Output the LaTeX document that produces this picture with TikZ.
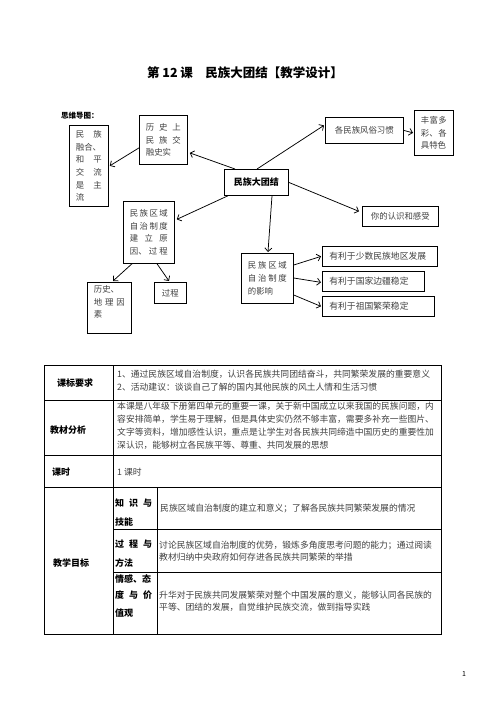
\documentclass[tikz,border=0pt]{standalone}
\usepackage{fontspec}
\setmainfont{Noto Sans CJK SC}
\usetikzlibrary{arrows.meta,calc}
\newcommand{\sprd}[2]{\makebox[#1pt][s]{#2}}
\definecolor{txt}{gray}{0.25}
\begin{document}
\begin{tikzpicture}[x=1pt,y=-1pt,
  box/.style={draw, line width=0.75pt, anchor=north west, inner sep=0pt, align=left,
    text=txt, font=\fontsize{8.4}{12.7}\selectfont},
  bbox/.style={box, inner xsep=7pt, align=left, font=\fontsize{8.8}{12}\selectfont},
  arr/.style={line width=0.75pt, -{Straight Barb[length=3.5pt,width=7pt]}},
  tl/.style={line width=0.8pt},
  tt/.style={anchor=west, inner sep=0pt, text=txt, font=\fontsize{8.8}{12}\selectfont},
  lb/.style={anchor=west, inner sep=0pt, font=\bfseries\fontsize{9}{12}\selectfont}]
\fill[white] (0,0) rectangle (496,702);
\path[use as bounding box] (0,0) rectangle (496,702);

% title
\node[font=\bfseries\fontsize{12.5}{14}\selectfont, inner sep=0pt] (title) at (245,73) {第 12 课\quad 民族大团结【教学设计】};
\node[anchor=west, inner sep=0pt, font=\bfseries\fontsize{7.5}{9}\selectfont] (mm) at (61,116) {思维导图：};

% mind map boxes
\node[box, minimum width=39pt, minimum height=81pt] (he) at (69,125)
  {\sprd{26}{民\hfill 族}\\ 融合、\\ \sprd{26}{和\hfill 平}\\ \sprd{26}{交\hfill 流}\\ \sprd{26}{是\hfill 主}\\ 流};
\node[box, minimum width=48pt, minimum height=49pt] (lishi) at (139,115)
  {\sprd{35}{历\hfill 史\hfill 上}\\ \sprd{35}{民\hfill 族\hfill 交}\\ 融史实};
\node[box, minimum width=64pt, minimum height=26pt, text=black, font=\bfseries\fontsize{9}{12}\selectfont] (tj) at (224,169) {民族大团结};
\node[box, minimum width=78pt, minimum height=26pt] (fs) at (325,117) {各民族风俗习惯};
\node[box, minimum width=39pt, minimum height=45pt] (ff) at (414,110)
  {\sprd{26}{丰\hfill 富\hfill 多}\\ \sprd{26}{彩、\hfill 各}\\ 具特色};
\node[box, minimum width=76pt, minimum height=20pt] (gs) at (362,206) {你的认识和感受};
\node[box, minimum width=51pt, minimum height=62pt] (zd) at (123,201)
  {\sprd{38}{民\hfill 族\hfill 区\hfill 域}\\ \sprd{38}{自\hfill 治\hfill 制\hfill 度}\\ \sprd{38}{建\hfill 立\hfill 原}\\ \sprd{38}{因、\hfill 过\hfill 程}};
\node[box, minimum width=44pt, minimum height=51pt] (dl) at (87,282)
  {历史、\\ \sprd{31}{地\hfill 理\hfill 因}\\ 素\\ \mbox{}};
\node[box, minimum width=32pt, minimum height=21pt] (gc) at (154,282) {过程};
\node[box, minimum width=52pt, minimum height=50pt] (yx) at (241,253)
  {\sprd{39}{民\hfill 族\hfill 区\hfill 域}\\ \sprd{39}{自\hfill 治\hfill 制\hfill 度}\\ 的影响};
\node[bbox, text width=101pt, minimum height=20pt] (b1) at (322,246) {有利于少数民族地区发展};
\node[bbox, text width=88pt, minimum height=20pt] (b2) at (322,271) {有利于国家边疆稳定};
\node[bbox, text width=98pt, minimum height=20pt] (b3) at (322,296) {有利于祖国繁荣稳定};

% connectors
\draw[arr] ($(tj.north west)+(11,0)$) -- ($(lishi.east)+(2,13)$);
\draw[arr] ($(lishi.west)+(0,8)$) -- ($(he.east)+(1,0)$);
\draw[arr] ($(tj.north west)+(33,0)$) -- ($(fs.west)+(-1,-5)$);
\draw[arr] (fs.east) -- ($(ff.west)+(-1,0)$);
\draw[arr] ($(tj.east)+(0,0)$) -- ($(gs.west)+(-3,-5)$);
\draw[arr] ($(tj.south west)+(4,0)$) -- ($(zd.east)+(2,-13)$);
\draw[arr] ($(tj.south west)+(48,0)$) -- ($(yx.north west)+(27,-1)$);
\draw[arr] ($(zd.south west)+(9,0)$) -- ($(dl.north west)+(26,-1)$);
\draw[arr] ($(zd.south west)+(34,0)$) -- ($(gc.north west)+(15,-1)$);
\draw[arr] ($(yx.north east)+(0,12)$) -- ($(b1.west)+(-1,0)$);
\draw[arr] ($(yx.north east)+(0,25)$) -- ($(b2.west)+(-1,1)$);
\draw[arr] ($(yx.north east)+(0,42)$) -- ($(b3.west)+(-1,0)$);

% table
\draw[tl] (44,365) rectangle (441,634);
\draw[tl] (44,400) -- (441,400);
\draw[tl] (44,455) -- (441,455);
\draw[tl] (44,487) -- (441,487);
\draw[tl] (113,529) -- (441,529);
\draw[tl] (113,572) -- (441,572);
\draw[tl] (113,365) -- (113,634);
\draw[tl] (157,487) -- (157,634);

\node[lb] (l1) at (57,383) {课标要求};
\node[lb] (l2) at (50,430) {教材分析};
\node[lb] (l3) at (52,472) {课时};
\node[lb] (l4) at (53,563) {教学目标};

\node[tt] (r1a) at (117,374) {1、通过民族区域自治制度，认识各民族共同团结奋斗，共同繁荣发展的重要意义};
\node[tt] (r1b) at (117,387) {2、活动建议：谈谈自己了解的国内其他民族的风土人情和生活习惯};
\node[tt] (r2a) at (117,406) {本课是八年级下册第四单元的重要一课，关于新中国成立以来我国的民族问题，内};
\node[tt] (r2b) at (117,419) {容安排简单，学生易于理解，但是具体史实仍然不够丰富，需要多补充一些图片、};
\node[tt] (r2c) at (117,432) {文字等资料，增加感性认识，重点是让学生对各民族共同缔造中国历史的重要性加};
\node[tt] (r2d) at (117,445) {深认识，能够树立各民族平等、尊重、共同发展的思想};
\node[tt] (r3) at (117,472) {1 课时};

\node[lb] (s1a) at (115,503) {\sprd{37}{知\hfill 识\hfill 与}};
\node[lb] (s1b) at (115,522) {技能};
\node[lb] (s2a) at (115,544) {\sprd{37}{过\hfill 程\hfill 与}};
\node[lb] (s2b) at (115,563) {方法};
\node[lb] (s3a) at (115,579) {情感、态};
\node[lb] (s3b) at (115,595) {\sprd{37}{度\hfill 与\hfill 价}};
\node[lb] (s3c) at (115,613) {值观};

\node[tt] (t1) at (160,508) {民族区域自治制度的建立和意义；了解各民族共同繁荣发展的情况};
\node[tt] (t2a) at (159,545) {讨论民族区域自治制度的优势，锻炼多角度思考问题的能力；通过阅读};
\node[tt] (t2b) at (159,557) {教材归纳中央政府如何存进各民族共同繁荣的举措};
\node[tt] (t3a) at (159,595) {升华对于民族共同发展繁荣对整个中国发展的意义，能够认同各民族的};
\node[tt] (t3b) at (159,607) {平等、团结的发展，自觉维护民族交流，做到指导实践};

\node[inner sep=0pt, font=\fontsize{7}{8}\selectfont] (pg) at (464,674) {1};
\end{tikzpicture}
\end{document}
